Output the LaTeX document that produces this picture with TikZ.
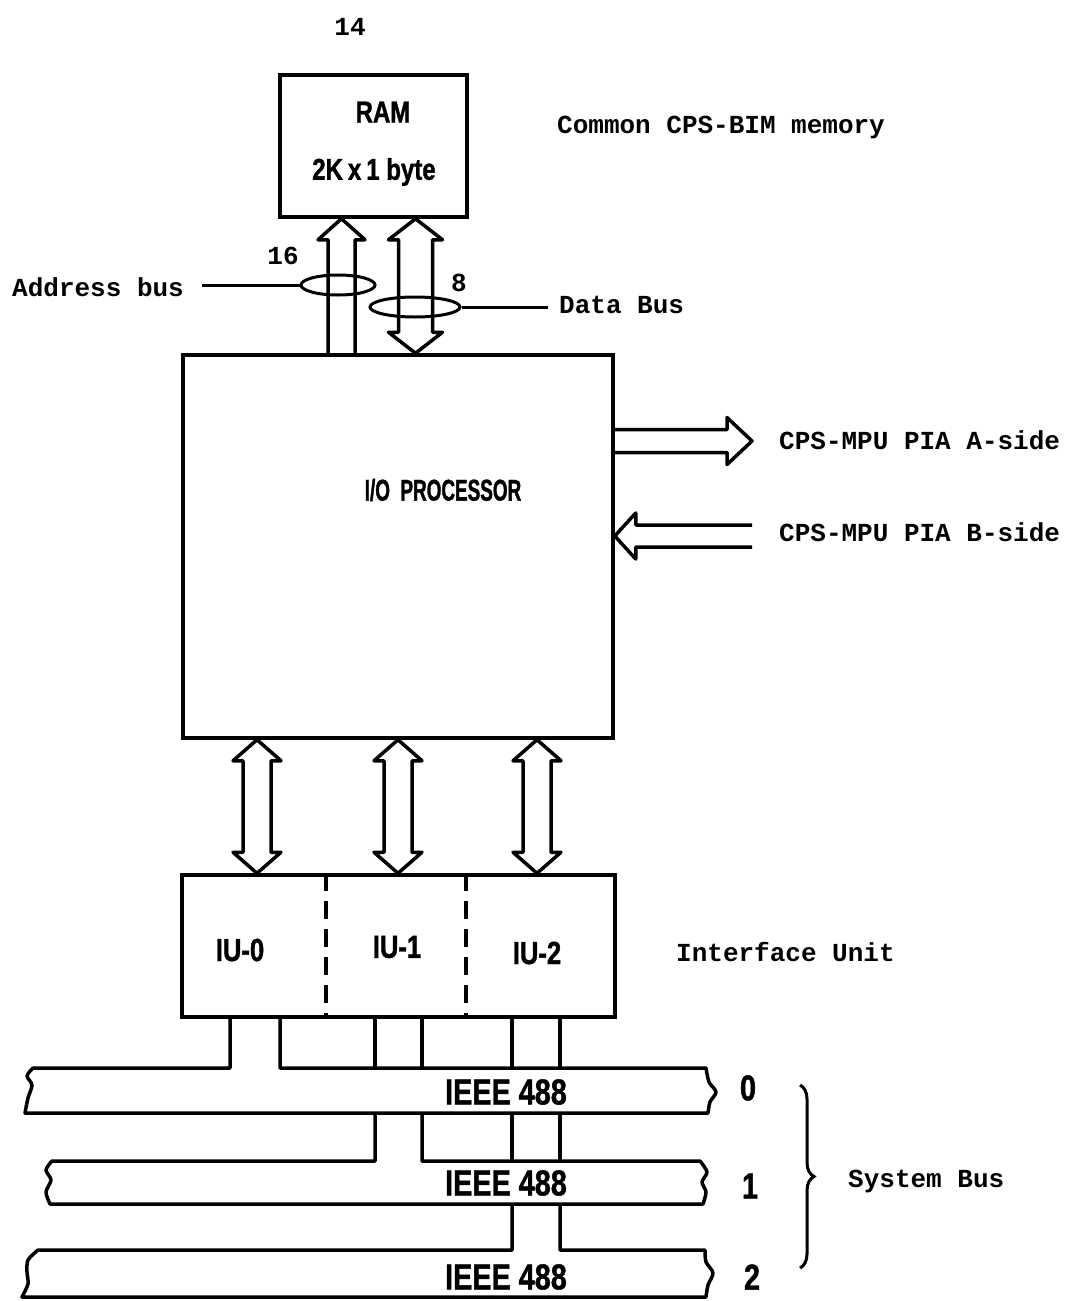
\documentclass[tikz,border=0pt]{standalone}
\usepackage{fontspec}
\setmonofont{Liberation Mono}
\newfontfamily\blockfont[FakeStretch=0.8, UprightFont={* Bold}, FakeBold=1.2]{Liberation Sans}
\newfontfamily\narrowfont[FakeStretch=0.63, UprightFont={* Bold}, FakeBold=1.2]{Liberation Sans}
\usetikzlibrary{calc,shapes.geometric,decorations.pathreplacing}

% hollow bus arrows: tip, tail, half shaft width
\newcommand{\busup}[3]{\draw[busline] ($(#2)+(-#3,0)$) -- ($(#1)+(-#3,21)$) -- ($(#1)+(-#3-10,21)$) -- (#1)
  -- ($(#1)+(#3+10,21)$) -- ($(#1)+(#3,21)$) -- ($(#2)+(#3,0)$);}
\newcommand{\busupdown}[3]{\draw[busline] (#1) -- ($(#1)+(#3+10,21)$) -- ($(#1)+(#3,21)$) -- ($(#2)+(#3,-21)$)
  -- ($(#2)+(#3+10,-21)$) -- (#2) -- ($(#2)+(-#3-10,-21)$) -- ($(#2)+(-#3,-21)$)
  -- ($(#1)+(-#3,21)$) -- ($(#1)+(-#3-10,21)$) -- cycle;}
% tip, tail, half shaft width, head length (signed)
\newcommand{\busside}[4]{\draw[busline] ($(#2)+(0,-#3)$) -- ($(#1)+(#4,-#3)$) -- ($(#1)+(#4,-#3-12)$) -- (#1)
  -- ($(#1)+(#4,#3+12)$) -- ($(#1)+(#4,#3)$) -- ($(#2)+(0,#3)$);}

\begin{document}
\begin{tikzpicture}[x=1pt,y=-1pt,
    unit/.style={draw, line width=3.5pt, inner sep=0pt},
    busline/.style={line width=3.5pt, line join=round},
    ring/.style={ellipse, draw, line width=3pt, inner sep=0pt},
    ringline/.style={line width=3pt},
    tag/.style={font=\fontsize{26}{26}\selectfont\ttfamily\bfseries, inner sep=0pt},
    blk/.style={font=\fontsize{#1}{#1}\selectfont\blockfont, inner sep=0pt},
    blk/.default=30,
    narrow/.style={font=\fontsize{30}{30}\selectfont\narrowfont, inner sep=0pt}]
  \useasboundingbox (0,0) rectangle (1076,1301);

  \node[tag] (page) at (350,27) {14};

  % memory
  \node[unit, minimum width=187, minimum height=142] (ram) at (373.5,146) {};
  \node[blk] (ramname) at (383,112) {RAM};
  \node[blk] (ramsize) at (374,172) {2K\,x\,1 byte};
  \node[tag, anchor=west] (common) at (557,127) {Common CPS-BIM memory};

  % processor
  \node[unit, minimum width=430, minimum height=383] (proc) at (398,546.5) {};
  \node[narrow] (proclbl) at (443,490) {I/O\ \ PROCESSOR};

  \coordinate (adr) at (341.5,0);
  \coordinate (dat) at (415.5,0);
  \busup{ram.south -| adr}{proc.north -| adr}{13.5}
  \busupdown{ram.south -| dat}{proc.north -| dat}{17}

  \node[ring, minimum width=74, minimum height=20] (adrring) at (338,285) {};
  \node[ring, minimum width=90, minimum height=20] (datring) at (415,307) {};
  \node[tag] (adrwidth) at (283,256) {16};
  \node[tag] (datwidth) at (459,283) {8};
  \node[tag, anchor=west] (adrlbl) at (12,287) {Address bus};
  \node[tag, anchor=west] (datlbl) at (559,305) {Data Bus};
  \draw[ringline, shorten >=18pt] (adrring.west) -- (adrring.west -| adrlbl.east);
  \draw[ringline, shorten >=11pt] (datring.east) -- (datring.east -| datlbl.west);

  % PIA sides
  \node[tag, anchor=west] (piaa) at (779,440) {CPS-MPU PIA A-side};
  \node[tag, anchor=west] (piab) at (779,532) {CPS-MPU PIA B-side};
  \coordinate (atip) at (752,441);
  \coordinate (btail) at (752,536);
  \busside{atip}{proc.east |- atip}{11.5}{-25}
  \busside{proc.east |- btail}{btail}{11}{21}

  % interface unit
  \node[unit, minimum width=433, minimum height=142] (iu) at (398.5,946) {};
  \draw[busline, dash pattern=on 18pt off 10pt] (326,0 |- iu.north) -- (326,0 |- iu.south);
  \draw[busline, dash pattern=on 18pt off 10pt] (466,0 |- iu.north) -- (466,0 |- iu.south);
  \node[blk=32] (iu0) at (240,950) {IU-0};
  \node[blk=32] (iu1) at (397,947) {IU-1};
  \node[blk=32] (iu2) at (537,953) {IU-2};
  \node[tag, anchor=west] (iflbl) at (676,952) {Interface Unit};
  \foreach \x in {257,398,537}{
    \coordinate (c) at (\x,0);
    \busupdown{proc.south -| c}{iu.north -| c}{14}
  }

  % system buses
  \foreach \x in {375,422,512,560}
    \draw[busline] (\x,0 |- iu.south) -- (\x,1068);
  \draw[busline] (512,1113) -- (512,1161);
  \draw[busline] (560,1113) -- (560,1161);
  \draw[busline] (230,0 |- iu.south) -- (230,1068) -- (33,1068)
    -- plot[smooth] coordinates {(33,1068) (27,1076) (32,1085) (28,1098) (25,1113)}
    -- (708,1113)
    -- plot[smooth] coordinates {(708,1113) (710,1102) (716,1092) (709,1082) (706,1068)}
    -- (280,1068) -- (280,0 |- iu.south);
  \draw[busline] (375,1113) -- (375,1161) -- (52,1161)
    -- plot[smooth] coordinates {(52,1161) (46,1170) (51,1180) (46,1192) (50,1204)}
    -- (703,1204)
    -- plot[smooth] coordinates {(703,1204) (706,1192) (702,1182) (707,1172) (700,1161)}
    -- (422,1161) -- (422,1113);
  \draw[busline] (512,1204) -- (512,1250) -- (38,1250)
    -- plot[smooth] coordinates {(38,1250) (28,1260) (27,1272) (28,1284) (22,1297)}
    -- (706,1297)
    -- plot[smooth] coordinates {(706,1297) (708,1285) (713,1273) (706,1262) (705,1250)}
    -- (560,1250) -- (560,1204);
  \node[blk=36] (ieee0) at (506,1092) {IEEE 488};
  \node[blk=36] (ieee1) at (506,1183) {IEEE 488};
  \node[blk=36] (ieee2) at (506,1277) {IEEE 488};
  \node[blk=36] (bus0) at (748,1088) {0};
  \node[blk=36] (bus1) at (750,1186) {1};
  \node[blk=36] (bus2) at (752,1277) {2};
  \draw[line width=3pt, decorate, decoration={brace, amplitude=14pt}] (800,1085) -- (800,1268);
  \node[tag, anchor=west] (sysbus) at (848,1181) {System Bus};
\end{tikzpicture}
\end{document}
